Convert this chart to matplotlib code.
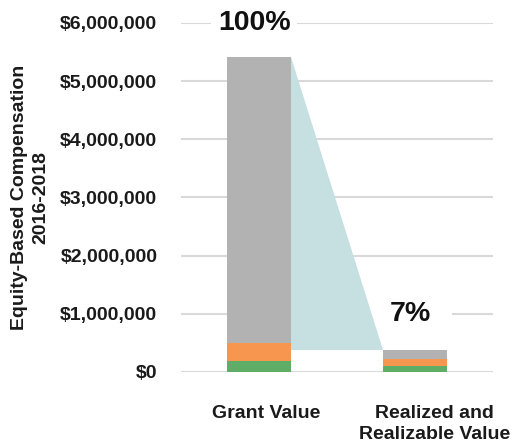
import matplotlib
matplotlib.use("Agg")
import matplotlib.pyplot as plt
from matplotlib.patches import Polygon
from matplotlib.ticker import FuncFormatter
import matplotlib.transforms as mtransforms
import numpy as np

plt.rcParams['font.family'] = ['Liberation Sans', 'DejaVu Sans']
plt.rcParams['font.weight'] = 'bold'

categories = ["Grant Value", "Realized and\nRealizable Value"]
green_vals = [190_000, 100_000]
orange_vals = [310_000, 120_000]
gray_vals = [4_920_000, 160_000]
pct_labels = ["100%", "7%"]
y_ticks = [0, 1_000_000, 2_000_000, 3_000_000, 4_000_000, 5_000_000, 6_000_000]

c_green = "#5eae68"
c_orange = "#f7964f"
c_gray = "#b2b2b2"
c_teal = "#c6e0e1"
c_grid = "#d9d9d9"

fig = plt.figure(figsize=(5.13, 4.47), dpi=100)
ax = fig.add_axes([181 / 513, 75 / 447, 312 / 513, 349 / 447])

x = np.arange(len(categories))
w = 0.404
green = np.array(green_vals)
orange = np.array(orange_vals)
gray = np.array(gray_vals)
totals = green + orange + gray

ax.bar(x, green, w, color=c_green, zorder=3)
ax.bar(x, orange, w, bottom=green, color=c_orange, zorder=3)
ax.bar(x, gray, w, bottom=green + orange, color=c_gray, zorder=3)

# connector wedge from the grant total down to the realized total
wedge = Polygon([(x[0] + w / 2, totals[0]),
                 (x[0] + w / 2, totals[1]),
                 (x[1] - w / 2, totals[1])],
                closed=True, facecolor=c_teal, edgecolor="none", zorder=2)
ax.add_patch(wedge)

ax.set_xlim(-0.5, 1.5)
ax.set_ylim(0, 6_000_000)
ax.set_yticks(y_ticks)
ax.yaxis.set_major_formatter(FuncFormatter(lambda v, p: f"${v:,.0f}"))
ax.tick_params(axis='y', length=0, pad=17, labelsize=14, labelcolor="#1a1a1a")
ax.set_xticks([])
for lab in ax.get_yticklabels():
    lab.set_fontweight('bold')
ax.grid(axis='y', color=c_grid, linewidth=1.5, zorder=0)
ax.set_axisbelow(True)
for s in ax.spines.values():
    s.set_visible(False)

# percentage labels sitting on gridlines with a white backing
ax.text(-0.03, 6_000_000, pct_labels[0], ha='center', va='center', fontsize=20.5,
        fontweight='bold', color="#111111",
        bbox=dict(facecolor='white', edgecolor='none', pad=5), zorder=4, clip_on=False)
ax.text(0.97, 1_000_000, pct_labels[1], ha='center', va='center', fontsize=20.5,
        fontweight='bold', color="#111111",
        bbox=dict(facecolor='white', edgecolor='none', boxstyle='square,pad=0.75'),
        zorder=1.5)

# category labels below the bars
label_x = [x[0] + 0.048, x[1] + 0.125]
trans = mtransforms.blended_transform_factory(ax.transData, ax.transAxes)
for lx, lab in zip(label_x, categories):
    ax.annotate(lab, xy=(lx, 0), xycoords=trans, xytext=(0, -24), textcoords='offset points',
                ha='center', va='top', fontsize=14, fontweight='bold', color="#1a1a1a",
                multialignment='center', linespacing=1.3)

fig.text(30 / 513, 0.558, "Equity-Based Compensation\n2016-2018", rotation=90,
         ha='center', va='center', fontsize=14, fontweight='bold', color="#1a1a1a",
         multialignment='center', linespacing=1.3)

fig.savefig("out.png", dpi=100)
